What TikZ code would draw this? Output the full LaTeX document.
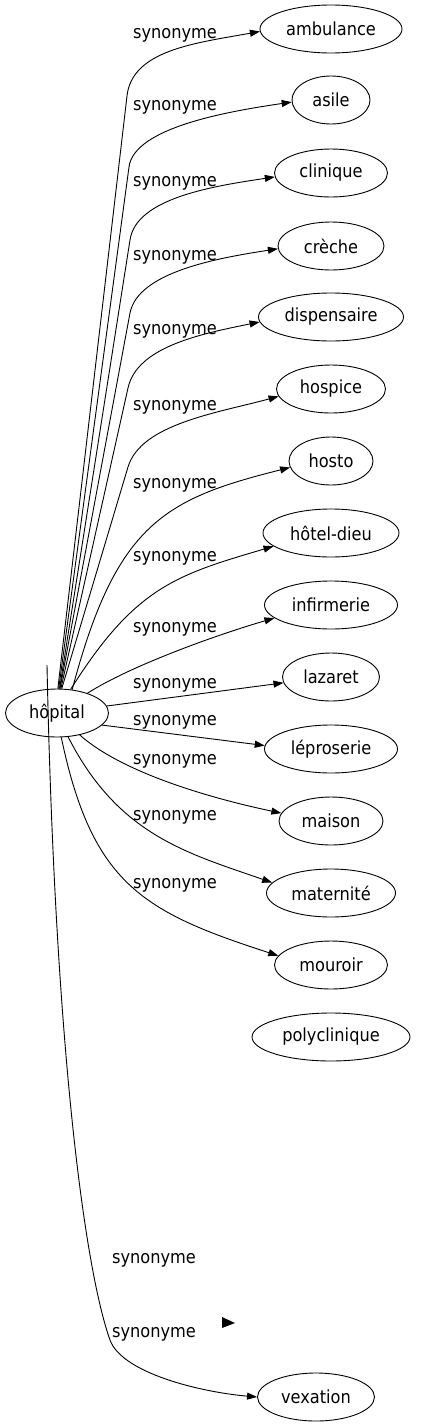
\documentclass[tikz,border=0pt]{standalone}
\usepackage{fontspec}
\setmainfont{DejaVu Sans}[FakeStretch=0.9]
\usetikzlibrary{shapes.geometric,arrows.meta}

\begin{document}
\begin{tikzpicture}[
	x = 1pt, y = -1pt,
	mot/.style = {draw, line width = 0.9pt, ellipse, inner sep = 0pt, minimum height = 48pt, font = \fontsize{18}{21}\selectfont},
	etiquette/.style = {inner sep = 0pt, yshift = -2pt, font = \fontsize{18}{21}\selectfont},
	lien/.style = {line width = 0.9pt, -{Triangle[length = 10pt, width = 7pt]}}
	]
	\useasboundingbox (0,0) rectangle (434,1427);
	\node [mot, minimum width = 103pt] (hopital) at (57,713) {hôpital};
	\foreach \nom/\texte/\yy/\ww in {ambulance/ambulance/29/142, asile/asile/100/78, clinique/clinique/173/113, creche/crèche/246/106, dispensaire/dispensaire/317/145, hospice/hospice/389/109, hosto/hosto/461/84, hotelDieu/hôtel-dieu/533/136, infirmerie/infirmerie/605/133, lazaret/lazaret/677/97, leproserie/léproserie/749/133, maison/maison/821/104, maternite/maternité/893/129, mouroir/mouroir/965/113, polyclinique/polyclinique/1037/158}
		\node [mot, minimum width = \ww pt] (\nom) at (331,\yy) {\texte};
	\node [mot, minimum width = 117pt] (vexation) at (316,1397) {vexation};
	
	\foreach \yy [count = \i] in {33,105,181,255,329,405,483,556,627,683,720,759,815,883}
		\node [etiquette] (syn\i) at (175,\yy) {synonyme};
	\node [etiquette] (syn15) at (154,1258) {synonyme};
	\node [etiquette] (syn16) at (154,1332) {synonyme};
	
	\foreach \nom/\dep/\bx/\by/\cx/\cy/\dx/\dy/\arr in {ambulance/88/127/96/132/50/196/43/182, asile/86/129/167/134/127/231/111/183, clinique/84/130/240/136/198/214/186/184, creche/83/130/313/138/272/218/258/183, dispensaire/81/128/388/137/347/200/334/184, hospice/79/128/467/141/424/217/413/188}
		\draw [lien] (hopital.\dep) -- (\bx,\by) .. controls (\cx,\cy) and (\dx,\dy) .. (\nom.\arr);
	\foreach \nom/\dep/\cx/\cy/\dx/\dy/\arr in {hosto/57/116/524/164/499/189, hotelDieu/60/135/587/176/575/193, infirmerie/33/130/666/216/635/193, maison/316/125/775/219/800/171, maternite/295/118/835/187/853/170, mouroir/280/92/884/143/912/170}
		\draw [lien] (hopital.\dep) .. controls (\cx,\cy) and (\dx,\dy) .. (\nom.\arr);
	\draw [lien] (hopital.8) -- (lazaret.187);
	\draw [lien] (hopital.345) -- (leproserie.177);
	
	\coordinate (depart) at (47,665);
	\draw [lien] (depart) .. controls (55,1050) and (85,1270) .. (110,1340) .. controls (122,1373) and (200,1392) .. (vexation.west);
	\fill (222,1317) -- (235,1323) -- (222,1328) -- cycle;
\end{tikzpicture}
\end{document}
